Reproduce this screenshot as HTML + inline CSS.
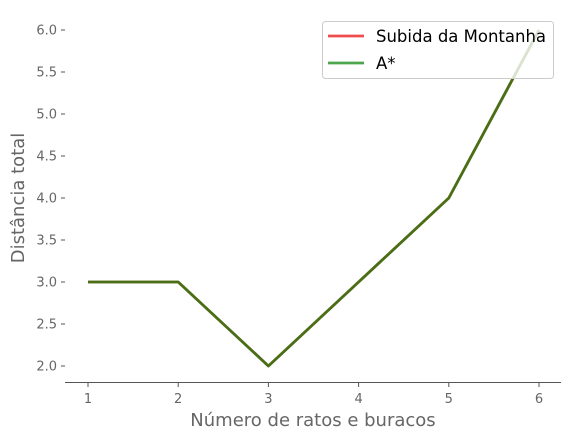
<!DOCTYPE html>
<html><head><meta charset="utf-8"><style>
html,body{margin:0;padding:0;background:#fff;}
svg{display:block;font-family:"DejaVu Sans","Liberation Sans",sans-serif;}
</style></head><body>
<svg id="chart" width="574" height="440" viewBox="0 0 574 440"></svg>
<script>
const categories=[1,2,3,4,5,6];
const subidaValues=[3,3,2,3,4,6];
const aStarValues=[3,3,2,3,4,6];
const yTicks=[2.0,2.5,3.0,3.5,4.0,4.5,5.0,5.5,6.0];
const xTicks=[1,2,3,4,5,6];
const NS="http://www.w3.org/2000/svg";
const svg=document.getElementById('chart');
const xs=v=>88+(v-1)*(451/5);
const ys=v=>366-(v-2)*84;
function mk(t,a,p){const e=document.createElementNS(NS,t);for(const k in a)e.setAttribute(k,a[k]);(p||svg).appendChild(e);return e;}
const sp=mk('line',{x1:65,x2:561,y1:382.5,y2:382.5,stroke:'#555','stroke-width':1});


yTicks.forEach(v=>{
 const t=mk('line',{x1:61,x2:65,y1:ys(v),y2:ys(v),stroke:'#555'});
 
 
 const l=mk('text',{x:57,y:ys(v)+4.5,'text-anchor':'end','font-size':'13',fill:'#666'});
 l.textContent=v.toFixed(1);
 
 
});
xTicks.forEach(v=>{
 const t=mk('line',{x1:xs(v),x2:xs(v),y1:383,y2:387,stroke:'#555'});
 
 
 const l=mk('text',{x:xs(v),y:403,'text-anchor':'middle','font-size':'13',fill:'#666'});
 l.textContent=v;
 
 
});
function line(vals,color,name){
 const d=vals.map((v,i)=>(i?'L':'M')+xs(categories[i])+','+ys(v)).join(' ');
 const p=mk('path',{d:d,fill:'none',stroke:color,'stroke-width':2.8,'stroke-opacity':0.7,'stroke-linejoin':'round'});
 
 
}
line(subidaValues,'rgb(230,0,0)','subida-line');
line(aStarValues,'rgb(0,128,0)','astar-line');
const xt=mk('text',{x:313,y:426,'text-anchor':'middle','font-size':'18',fill:'#666'});
xt.textContent='Número de ratos e buracos';


const yt=mk('text',{x:24,y:198,'text-anchor':'middle','font-size':'18',fill:'#666',transform:'rotate(-90 24 198)'});
yt.textContent='Distância total';


const lg=mk('g',{});


mk('rect',{x:322.5,y:21.5,width:231,height:57,rx:3,fill:'#fff','fill-opacity':0.8,stroke:'#ccc'},lg);
mk('line',{x1:328,x2:364,y1:36,y2:36,stroke:'rgb(237,77,77)','stroke-width':2.8},lg);
mk('line',{x1:328,x2:364,y1:63,y2:63,stroke:'rgb(77,166,77)','stroke-width':2.8},lg);
const t1=mk('text',{x:376,y:42,'font-size':'16.5',fill:'#000'},lg);t1.textContent='Subida da Montanha';
const t2=mk('text',{x:376,y:69,'font-size':'16.5',fill:'#000'},lg);t2.textContent='A*';
</script>
</body></html>
